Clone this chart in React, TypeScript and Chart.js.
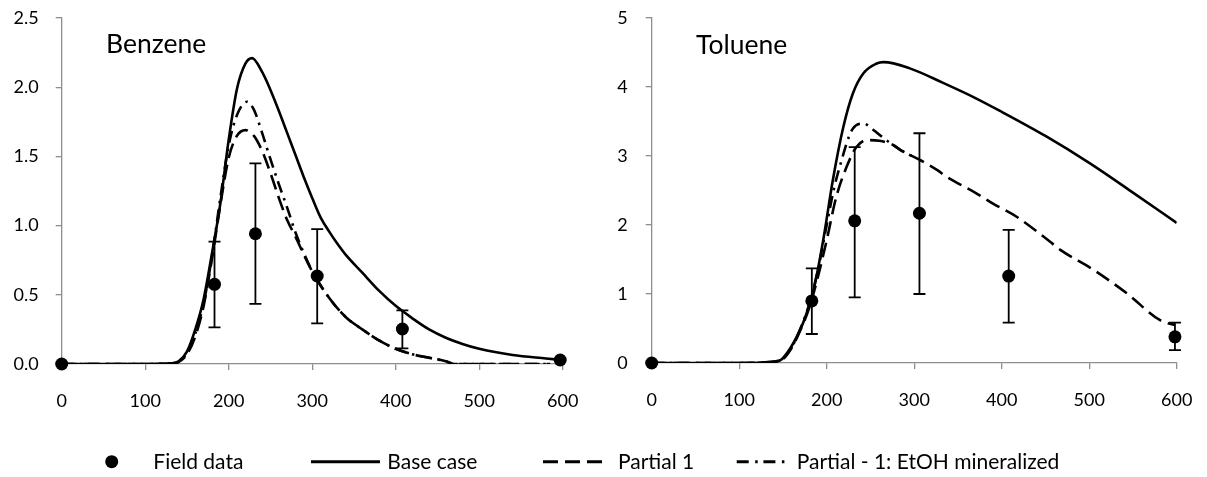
import React, { useEffect, useRef } from 'react';
import { Chart, registerables } from 'chart.js';

Chart.register(...registerables);

const FONT = 'Lato, "Open Sans", sans-serif';
const AXIS_GRAY = '#8e8e8e';

// ---------- Benzene ----------
const benzeneFieldT = [0, 183, 232, 306, 408, 597];
const benzeneFieldV = [0, 0.576, 0.941, 0.636, 0.253, 0.029];
const benzeneErrHigh = [null, 0.884, 1.45, 0.975, 0.388, null];
const benzeneErrLow = [null, 0.265, 0.434, 0.294, 0.113, null];

const benzeneBaseT = [0, 100, 130, 140, 150, 160, 170, 180, 190, 200, 210, 220, 228, 240, 250, 260, 270, 280, 290, 300, 310, 320, 330, 340, 360, 380, 400, 420, 440, 460, 480, 500, 540, 580, 597];
const benzeneBaseV = [0, 0, 0.005, 0.02, 0.09, 0.25, 0.47, 0.8, 1.16, 1.62, 1.99, 2.17, 2.21, 2.11, 1.98, 1.83, 1.67, 1.51, 1.35, 1.2, 1.06, 0.96, 0.87, 0.79, 0.66, 0.53, 0.42, 0.33, 0.25, 0.19, 0.145, 0.11, 0.065, 0.04, 0.03];

const benzenePartialT = [0, 100, 130, 140, 150, 160, 170, 180, 190, 200, 210, 220, 230, 240, 250, 260, 270, 280, 290, 300, 320, 340, 360, 380, 400, 420, 440, 460, 470, 500, 540, 585];
const benzenePartialV = [0, 0, 0.003, 0.015, 0.07, 0.2, 0.42, 0.76, 1.15, 1.49, 1.65, 1.69, 1.65, 1.54, 1.38, 1.2, 1.04, 0.92, 0.79, 0.67, 0.48, 0.34, 0.25, 0.17, 0.11, 0.07, 0.045, 0.02, 0, 0, 0, 0];

const benzeneEtohT = [0, 100, 130, 140, 150, 160, 170, 180, 190, 200, 210, 222, 230, 240, 250, 260, 270, 280, 290, 300, 320, 340, 360, 380, 400, 420, 440, 460, 470, 500, 540, 585];
const benzeneEtohV = [0, 0, 0.003, 0.015, 0.08, 0.22, 0.44, 0.78, 1.2, 1.58, 1.8, 1.895, 1.84, 1.67, 1.48, 1.3, 1.13, 0.95, 0.8, 0.67, 0.48, 0.34, 0.25, 0.17, 0.11, 0.07, 0.045, 0.02, 0, 0, 0, 0];

// ---------- Toluene ----------
const tolueneFieldT = [0, 183, 232, 306, 408, 598];
const tolueneFieldV = [0, 0.9, 2.06, 2.17, 1.26, 0.38];
const tolueneErrHigh = [null, 1.37, 3.13, 3.33, 1.93, 0.584];
const tolueneErrLow = [null, 0.42, 0.95, 1.0, 0.584, 0.188];

const tolueneBaseT = [0, 100, 130, 140, 147, 150, 162, 173, 185, 196, 207, 219, 230, 242, 257, 265, 295, 333, 370, 400, 450, 500, 550, 600];
const tolueneBaseV = [0, 0, 0.005, 0.02, 0.04, 0.07, 0.29, 0.58, 1.06, 1.78, 2.65, 3.42, 3.91, 4.2, 4.34, 4.36, 4.27, 4.06, 3.84, 3.64, 3.29, 2.9, 2.47, 2.03];

const toluenePartialT = [0, 100, 140, 150, 160, 170, 180, 190, 200, 211, 223, 234, 246, 260, 276, 284, 307, 326, 337, 371, 390, 417, 455, 467, 505, 543, 581, 598];
const toluenePartialV = [0, 0, 0.02, 0.06, 0.22, 0.48, 0.8, 1.25, 1.78, 2.41, 2.85, 3.13, 3.23, 3.22, 3.16, 3.09, 2.94, 2.8, 2.7, 2.46, 2.31, 2.12, 1.76, 1.64, 1.35, 1.01, 0.62, 0.55];

const tolueneEtohT = [0, 100, 140, 150, 160, 170, 180, 190, 200, 208, 215, 230, 242, 253, 265, 284, 300];
const tolueneEtohV = [0, 0, 0.02, 0.06, 0.23, 0.5, 0.85, 1.35, 2.0, 2.51, 2.85, 3.4, 3.47, 3.38, 3.26, 3.09, 2.98];

const seriesLabels = ['Field data', 'Base case', 'Partial 1', 'Partial - 1: EtOH mineralized'];

const pts = (t: number[], v: number[]) => t.map((x, i) => ({ x, y: v[i] }));

const errorBarPlugin = {
  id: 'errorBars',
  afterDatasetsDraw(chart: any, _args: any, opts: any) {
    const { ctx } = chart;
    const xs = chart.scales.x;
    const ys = chart.scales.y;
    const { t, low, high } = opts;
    ctx.save();
    ctx.strokeStyle = '#000';
    ctx.lineWidth = 1.8;
    for (let i = 0; i < t.length; i++) {
      if (low[i] == null || high[i] == null) continue;
      const px = xs.getPixelForValue(t[i]);
      const yl = ys.getPixelForValue(low[i]);
      const yh = ys.getPixelForValue(high[i]);
      ctx.beginPath();
      ctx.moveTo(px, yl);
      ctx.lineTo(px, yh);
      ctx.moveTo(px - 6, yl);
      ctx.lineTo(px + 6, yl);
      ctx.moveTo(px - 6, yh);
      ctx.lineTo(px + 6, yh);
      ctx.stroke();
    }
    ctx.restore();
  },
};

type Spec = {
  fieldT: number[]; fieldV: number[]; errLow: (number | null)[]; errHigh: (number | null)[];
  baseT: number[]; baseV: number[]; partT: number[]; partV: number[]; etohT: number[]; etohV: number[];
  yMax: number; yStep: number; yDecimals: number; padRight: number; xAxisH: number; yTickPad: number;
};

function makeConfig(p: Spec): any {
  const lineBase = {
    showLine: true,
    borderColor: '#000',
    backgroundColor: '#000',
    borderWidth: 2.6,
    pointRadius: 0,
    cubicInterpolationMode: 'monotone',
    fill: false,
  };
  return {
    type: 'scatter',
    data: {
      datasets: [
        {
          label: seriesLabels[0],
          data: pts(p.fieldT, p.fieldV),
          showLine: false,
          pointRadius: 6.5,
          pointBackgroundColor: '#000',
          pointBorderColor: '#000',
          pointBorderWidth: 0,
          clip: false,
        },
        { ...lineBase, label: seriesLabels[1], data: pts(p.baseT, p.baseV) },
        { ...lineBase, label: seriesLabels[3], data: pts(p.etohT, p.etohV), borderDash: [12, 6, 2.5, 6] },
        { ...lineBase, label: seriesLabels[2], data: pts(p.partT, p.partV), borderDash: [15, 7] },
      ],
    },
    options: {
      animation: false,
      responsive: false,
      maintainAspectRatio: false,
      layout: { padding: { top: 18, right: p.padRight, left: 0, bottom: 0 } },
      plugins: {
        legend: { display: false },
        tooltip: { enabled: false },
        errorBars: { t: p.fieldT, low: p.errLow, high: p.errHigh },
      },
      scales: {
        x: {
          type: 'linear',
          min: 0,
          max: 600,
          ticks: { stepSize: 100, color: '#000', font: { family: FONT, size: 18 }, padding: 20.5, maxRotation: 0 },
          grid: { display: true, drawOnChartArea: false, drawTicks: true, tickLength: 6, color: AXIS_GRAY, lineWidth: 1.3 },
          border: { display: true, color: AXIS_GRAY, width: 1.3 },
          afterFit: (s: any) => { s.height = p.xAxisH; s.paddingLeft = 0; s.paddingRight = 0; },
        },
        y: {
          type: 'linear',
          min: 0,
          max: p.yMax,
          ticks: {
            stepSize: p.yStep,
            color: '#000',
            font: { family: FONT, size: 18 },
            padding: p.yTickPad,
            callback: (v: number) => v.toFixed(p.yDecimals),
          },
          grid: { display: true, drawOnChartArea: false, drawTicks: true, tickLength: 6, color: AXIS_GRAY, lineWidth: 1.3 },
          border: { display: true, color: AXIS_GRAY, width: 1.3 },
          afterFit: (s: any) => { s.width = 61.7; s.paddingTop = 0; s.paddingBottom = 0; },
        },
      },
    },
    plugins: [errorBarPlugin],
  };
}

function Panel({ spec, left, width, height }: { spec: Spec; left: number; width: number; height: number }) {
  const ref = useRef<HTMLCanvasElement>(null);
  useEffect(() => {
    let chart: Chart | null = null;
    let cancelled = false;
    const create = () => {
      if (cancelled || !ref.current) return;
      chart = new Chart(ref.current, makeConfig(spec));
    };
    const fonts: any = (document as any).fonts;
    if (fonts && fonts.load) {
      fonts.load(`18px Lato`).then(create, create);
    } else create();
    return () => {
      cancelled = true;
      if (chart) chart.destroy();
    };
  }, []);
  return (
    <canvas
      ref={ref}
      width={width}
      height={height}
      style={{ position: 'absolute', left, top: 0, width, height }}
    />
  );
}

const benzeneSpec: Spec = {
  fieldT: benzeneFieldT, fieldV: benzeneFieldV, errLow: benzeneErrLow, errHigh: benzeneErrHigh,
  baseT: benzeneBaseT, baseV: benzeneBaseV, partT: benzenePartialT, partV: benzenePartialV,
  etohT: benzeneEtohT, etohV: benzeneEtohV,
  yMax: 2.5, yStep: 0.5, yDecimals: 1, padRight: 37.3, xAxisH: 56, yTickPad: 17,
};

const tolueneSpec: Spec = {
  fieldT: tolueneFieldT, fieldV: tolueneFieldV, errLow: tolueneErrLow, errHigh: tolueneErrHigh,
  baseT: tolueneBaseT, baseV: tolueneBaseV, partT: toluenePartialT, partV: toluenePartialV,
  etohT: tolueneEtohT, etohV: tolueneEtohV,
  yMax: 5, yStep: 1, yDecimals: 0, padRight: 30.3, xAxisH: 57, yTickPad: 18,
};

const titleStyle: React.CSSProperties = {
  position: 'absolute',
  fontFamily: FONT,
  fontSize: 26.5,
  lineHeight: '32px',
  color: '#000',
  whiteSpace: 'nowrap',
};

const legendText: React.CSSProperties = {
  position: 'absolute',
  top: 448,
  fontFamily: FONT,
  fontSize: 21,
  lineHeight: '25px',
  color: '#000',
  whiteSpace: 'nowrap',
};

export default function App() {
  const ly = 461.7;
  return (
    <div style={{ position: 'fixed', left: 0, top: 0, width: 1207, height: 477, background: '#fff', overflow: 'hidden' }}>
      <Panel spec={benzeneSpec} left={0} width={600} height={420} />
      <Panel spec={tolueneSpec} left={590} width={617} height={420} />
      <div style={{ ...titleStyle, left: 106, top: 27 }}>Benzene</div>
      <div style={{ ...titleStyle, left: 696, top: 28 }}>Toluene</div>
      <svg width={1207} height={477} style={{ position: 'absolute', left: 0, top: 0, pointerEvents: 'none' }}>
        <circle cx={111.7} cy={ly} r={6.5} fill="#000" />
        <line x1={311} y1={ly} x2={380} y2={ly} stroke="#000" strokeWidth={3} />
        <line x1={543} y1={ly} x2={602} y2={ly} stroke="#000" strokeWidth={3} strokeDasharray="15 7" />
        <line x1={736.7} y1={ly} x2={786} y2={ly} stroke="#000" strokeWidth={3} strokeDasharray="12 6.5 2.5 5.7" />
      </svg>
      <div style={{ ...legendText, left: 153.3 }}>{seriesLabels[0]}</div>
      <div style={{ ...legendText, left: 387.3 }}>{seriesLabels[1]}</div>
      <div style={{ ...legendText, left: 618 }}>{seriesLabels[2]}</div>
      <div style={{ ...legendText, left: 796.7 }}>{seriesLabels[3]}</div>
    </div>
  );
}
